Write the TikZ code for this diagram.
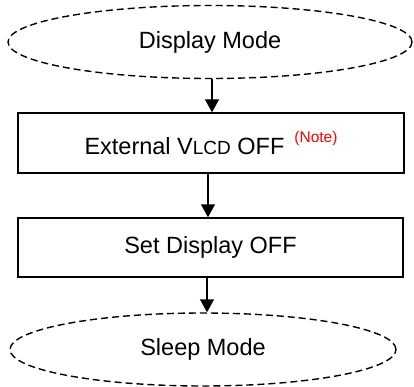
\documentclass[tikz,border=0pt]{standalone}
\usepackage{fontspec}
\setmainfont{Liberation Sans}
\usetikzlibrary{shapes.geometric,arrows.meta}
\begin{document}
\begin{tikzpicture}[x=1pt,y=-1pt,
  every node/.style={font=\fontsize{23.5}{27}\selectfont},
  mode/.style={draw, dash pattern=on 7pt off 4pt, ellipse, line width=1.4pt, inner sep=0pt},
  stepbox/.style={draw, rectangle, line width=1.4pt, inner sep=0pt},
  conn/.style={line width=1.4pt, -{Triangle[width=14pt,length=13pt]}}]
\useasboundingbox (0,0) rectangle (414,387);
\node[mode, minimum width=404pt, minimum height=73pt] (dm) at (210,42) {Display Mode};
\node[stepbox, minimum width=386pt, minimum height=60pt] (ext) at (211,143)
  {External V{\fontsize{19}{22}\selectfont LCD} OFF\hspace{10pt}\raisebox{12pt}{\fontsize{15.5}{18}\selectfont\color{red}(Note)}};
\node[stepbox, minimum width=385pt, minimum height=59pt] (set) at (210.5,247.5) {Set Display OFF};
\node[mode, minimum width=386pt, minimum height=73pt] (sm) at (203,349.5) {Sleep Mode};
\draw[conn] (dm.south -| 212,0) -- (ext.north -| 212,0);
\draw[conn] (ext.south -| 208,0) -- (set.north -| 208,0);
\draw[conn] (set.south -| 207,0) -- (sm.north -| 207,0);
\end{tikzpicture}
\end{document}
